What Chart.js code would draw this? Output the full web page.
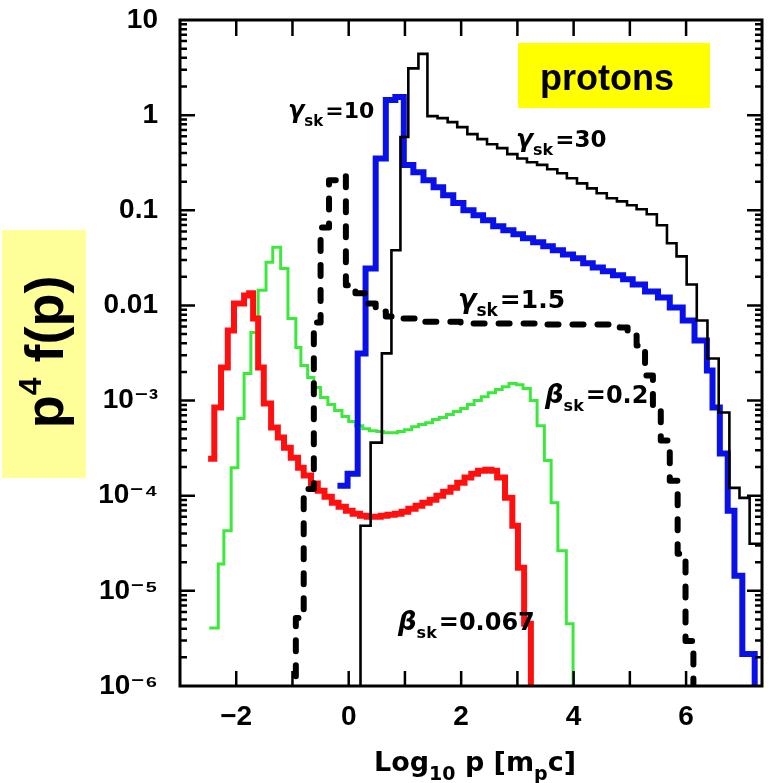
<!DOCTYPE html>
<html><head><meta charset="utf-8">
<script src="https://cdn.jsdelivr.net/npm/chart.js@4.4.0/dist/chart.umd.min.js"></script>
<style>html,body{margin:0;padding:0;background:#fff}canvas{display:block}</style>
</head><body>
<canvas id="c" width="770" height="783"></canvas>
<script>
// ---- data: bin left edges (log10 p) and p^4 f(p) values ----
const blackX = [0.21,0.21,0.39,0.59,0.76,0.92,1.06,1.24,1.40,1.58,1.76,1.93,2.11,2.29,2.46,2.64,2.82,3.00,3.17,3.35,3.53,3.71,3.88,4.06,4.24,4.41,4.59,4.77,4.95,5.12,5.30,5.48,5.66,5.83,6.01,6.19,6.38,6.58,6.77,6.95,7.13,7.40];
const blackY = [1e-8,4.83e-5,3.61e-4,3.13e-3,0.038,0.59,3.1,4.4,0.976,0.93,0.844,0.748,0.631,0.559,0.495,0.45,0.389,0.35,0.32,0.30,0.27,0.245,0.217,0.192,0.17,0.151,0.134,0.124,0.113,0.1025,0.0908,0.0695,0.045,0.0328,0.0166,0.00695,0.00277,0.000748,0.000121,9.5e-5,3.13e-5,3.13e-5];

const blueX = [-0.20,-0.02,0.16,0.30,0.48,0.66,0.83,0.98,1.15,1.33,1.51,1.68,1.86,2.04,2.22,2.39,2.57,2.75,2.93,3.10,3.28,3.46,3.63,3.81,3.99,4.17,4.34,4.52,4.70,4.88,5.05,5.27,5.50,5.71,5.94,6.15,6.37,6.47,6.60,6.74,6.86,7.00,7.22];
const blueY = [1.27e-4,1.7e-4,3.13e-3,0.0245,0.35,1.44,1.55,0.30,0.251,0.207,0.175,0.144,0.119,0.1,0.0885,0.0785,0.068,0.0616,0.0559,0.0507,0.046,0.0418,0.038,0.0344,0.0313,0.0277,0.0251,0.0228,0.0207,0.0188,0.0166,0.014,0.0121,0.00953,0.00695,0.00428,0.00207,0.000844,0.000277,6.95e-5,1.44e-5,2.17e-6,1e-8];

const dashX = [-0.94,-0.94,-0.80,-0.62,-0.50,-0.35,-0.20,-0.05,0.12,0.30,0.48,0.66,0.83,1.28,1.99,3.40,4.82,4.96,5.12,5.27,5.41,5.55,5.71,5.85,5.99,6.13];
const dashY = [1e-8,5.2e-6,1.18e-4,6.62e-3,0.066,0.207,0.228,0.0163,0.0134,0.0105,0.00865,0.00766,0.0073,0.00675,0.00647,0.0063,0.00586,0.00483,0.0038,0.00183,0.000785,0.00038,0.000144,2.45e-5,2.98e-6,1e-8];

const redX = [-2.50,-2.39,-2.27,-2.15,-2.04,-1.86,-1.77,-1.70,-1.61,-1.51,-1.38,-1.26,-1.15,-1.03,-0.90,-0.80,-0.67,-0.55,-0.43,-0.30,-0.18,-0.05,0.07,0.20,0.32,0.44,0.57,0.69,0.82,0.94,1.06,1.19,1.31,1.44,1.56,1.68,1.81,1.93,2.06,2.18,2.30,2.43,2.54,2.64,2.78,2.91,3.01,3.12,3.24];
const redY = [2.45e-4,8.44e-4,2.22e-3,5.45e-3,0.0105,0.0127,0.0134,0.0073,0.00222,0.00093,0.00052,0.000408,0.00032,0.000251,0.000197,0.000163,0.000134,0.000113,9.76e-5,8.44e-5,7.66e-5,6.95e-5,6.47e-5,6.16e-5,6.01e-5,6.01e-5,6.16e-5,6.31e-5,6.47e-5,6.79e-5,7.3e-5,7.85e-5,8.44e-5,9.08e-5,1.0e-4,1.1e-4,1.21e-4,1.37e-4,1.55e-4,1.7e-4,1.83e-4,1.88e-4,1.83e-4,1.55e-4,9.5e-5,4.83e-5,1.75e-5,4.5e-6,1e-8];

const greenX = [-2.48,-2.32,-2.22,-2.09,-1.97,-1.86,-1.74,-1.61,-1.47,-1.35,-1.21,-1.08,-0.94,-0.85,-0.73,-0.62,-0.50,-0.37,-0.25,-0.12,0.00,0.12,0.25,0.37,0.50,0.62,0.74,0.87,0.99,1.12,1.24,1.37,1.49,1.61,1.74,1.86,1.99,2.11,2.23,2.36,2.48,2.61,2.73,2.85,2.98,3.10,3.23,3.35,3.48,3.60,3.72,3.87,3.99];
const greenY = [4.08e-6,1.92e-5,4.28e-5,1.97e-4,6.47e-4,1.92e-3,5.2e-3,0.0144,0.0284,0.0408,0.0245,0.0073,0.00361,0.00234,0.00175,0.00137,0.00108,9.08e-4,7.85e-4,6.79e-4,6.01e-4,5.45e-4,5.07e-4,4.83e-4,4.72e-4,4.6e-4,4.6e-4,4.72e-4,4.95e-4,5.32e-4,5.59e-4,5.86e-4,6.31e-4,6.62e-4,7.13e-4,7.66e-4,8.24e-4,9.08e-4,1.0e-3,1.1e-3,1.21e-3,1.31e-3,1.4e-3,1.51e-3,1.47e-3,1.34e-3,1.0e-3,5.45e-4,2.34e-4,8.44e-5,2.64e-5,4.5e-6,1e-8];

const xTickLabels = {'-2':'\u22122','0':'0','2':'2','4':'4','6':'6'};
const yTickLabels = {'1':'10','0':'1','-1':'0.1','-2':'0.01','-3':'10\u207B\u00B3','-4':'10\u207B\u2074','-5':'10\u207B\u2075','-6':'10\u207B\u2076'};
const xTitle = [['Log',0],['10',1],[' p [m',0],['p',1],['c]',0]];
const yTitle = [['p',0],['4',2],[' f(p)',0]];
const curveLabels = [
  {g:'\u03B3', v:'=10',  x:288, y:118, s:22},
  {g:'\u03B3', v:'=30',  x:516, y:147, s:23},
  {g:'\u03B3', v:'=1.5', x:458, y:308, s:25},
  {g:'\u03B2', v:'=0.2', x:545, y:403, s:24},
  {g:'\u03B2', v:'=0.067', x:398, y:630, s:24}
];
const boxLabel = 'protons';

const FT = "'Liberation Sans','DejaVu Sans',sans-serif";
const FL = "'DejaVu Sans',sans-serif";

function pts(xs, ys){ return xs.map((x,i)=>({x:x, y:ys[i]})); }

function rich(ctx, parts, x, y, center){
  let w = 0;
  parts.forEach(p=>{ ctx.font = p.f; p.w = ctx.measureText(p.t).width; w += p.w + (p.gap||0); });
  let cx = center ? x - w/2 : x;
  parts.forEach(p=>{ ctx.font = p.f; ctx.fillText(p.t, cx, y + (p.dy||0)); cx += p.w + (p.gap||0); });
}

const decor = {
  id:'decor',
  beforeDraw(chart){
    const ctx = chart.ctx;
    ctx.save();
    ctx.fillStyle = '#ffffff'; ctx.fillRect(0,0,chart.width,chart.height);
    ctx.fillStyle = '#ffff99'; ctx.fillRect(2,230,84,248);
    ctx.fillStyle = '#ffff00'; ctx.fillRect(518,43,192,65);
    ctx.restore();
  },
  afterDatasetsDraw(chart){
    const ctx = chart.ctx, a = chart.chartArea, xs = chart.scales.x, ys = chart.scales.y;
    ctx.save();
    ctx.strokeStyle = '#000'; ctx.lineWidth = 2.5; ctx.lineCap = 'butt';
    ctx.beginPath();
    for (let e = -6; e <= 0; e++) {
      for (let k = 1; k <= 9; k++) {
        const v = k * Math.pow(10, e);
        if (k === 1 && e === -6) continue;
        const py = ys.getPixelForValue(v);
        const len = (k === 1) ? 15 : 7;
        ctx.moveTo(a.left, py); ctx.lineTo(a.left + len, py);
        ctx.moveTo(a.right, py); ctx.lineTo(a.right - len, py);
      }
    }
    xs.ticks.forEach(t=>{
      if (Math.abs(t.value - Math.round(t.value)) > 1e-9) return;
      if (t.value <= xs.min || t.value >= xs.max) return;
      const px = xs.getPixelForValue(t.value);
      ctx.moveTo(px, a.bottom); ctx.lineTo(px, a.bottom - 15);
      ctx.moveTo(px, a.top); ctx.lineTo(px, a.top + 16);
    });
    ctx.stroke();
    ctx.lineWidth = 3;
    ctx.strokeRect(a.left, a.top, a.right - a.left, a.bottom - a.top);

    ctx.fillStyle = '#000'; ctx.textBaseline = 'alphabetic';
    ctx.font = 'bold 36px ' + FT; ctx.textAlign = 'center';
    ctx.fillText(boxLabel, 607, 90);
    ctx.textAlign = 'left';
    curveLabels.forEach(c=>{
      rich(ctx, [
        {t:c.g, f:'italic bold '+(c.s+2)+'px '+FL},
        {t:'sk', f:'bold '+Math.round(c.s*0.68)+'px '+FL, dy:8, gap:2},
        {t:c.v, f:'bold '+c.s+'px '+FL}
      ], c.x, c.y, false);
    });
    rich(ctx, xTitle.map(p=>({t:p[0], f:(p[1]?'bold 19px ':'bold 27px ')+FL, dy:p[1]?9:0})), 475, 771, true);
    ctx.translate(63, 352); ctx.rotate(-Math.PI/2);
    rich(ctx, yTitle.map(p=>({t:p[0], f:(p[1]?'bold 32px ':'bold 54px ')+FT, dy:p[1]?-22:0})), 0, 0, true);
    ctx.restore();
  }
};

const common = {pointRadius:0, pointHoverRadius:0, fill:false, stepped:'before', tension:0, borderJoinStyle:'miter'};
new Chart(document.getElementById('c'), {
  type:'line',
  data:{ datasets:[
    Object.assign({label:'\u03B3sk=30', data:pts(blackX,blackY), borderColor:'#000000', borderWidth:2.6}, common),
    Object.assign({label:'\u03B3sk=1.5', data:pts(dashX,dashY), borderColor:'#000000', borderWidth:6, borderDash:[11,14], borderCapStyle:'round'}, common, {borderJoinStyle:'round'}),
    Object.assign({label:'\u03B3sk=10', data:pts(blueX,blueY), borderColor:'#0a10e8', borderWidth:6}, common),
    Object.assign({label:'\u03B2sk=0.067', data:pts(redX,redY), borderColor:'#ff1010', borderWidth:6}, common),
    Object.assign({label:'\u03B2sk=0.2', data:pts(greenX,greenY), borderColor:'#3de83d', borderWidth:3}, common)
  ]},
  options:{
    responsive:false, animation:false, devicePixelRatio:1,
    layout:{padding:{top:20, right:8, left:0, bottom:0}},
    plugins:{legend:{display:false}, tooltip:{enabled:false}},
    scales:{
      x:{ type:'linear', min:-3, max:7.35,
          grid:{display:false, drawTicks:false}, border:{display:false},
          ticks:{ stepSize:1, autoSkip:false, maxRotation:0, padding:14, color:'#000',
                  font:{family:FT, weight:'bold', size:28},
                  callback:(v)=> (xTickLabels[String(Math.round(v))] !== undefined && Math.abs(v-Math.round(v))<1e-9) ? xTickLabels[String(Math.round(v))] : '' },
          afterFit:(s)=>{ s.height = 97; s.paddingLeft = 0; s.paddingRight = 0; } },
      y:{ type:'logarithmic', min:1e-6, max:10,
          grid:{display:false, drawTicks:false}, border:{display:false},
          ticks:{ autoSkip:false, padding:22, color:'#000',
                  font:{family:FT, weight:'bold', size:28},
                  callback:(v)=>{ const l = Math.log10(v), e = Math.round(l); return (Math.abs(l-e)<1e-6 && yTickLabels[String(e)]!==undefined) ? yTickLabels[String(e)] : ''; } },
          afterFit:(s)=>{ s.width = 180; s.paddingTop = 0; s.paddingBottom = 0; } }
    }
  },
  plugins:[decor]
});
</script>
</body></html>
